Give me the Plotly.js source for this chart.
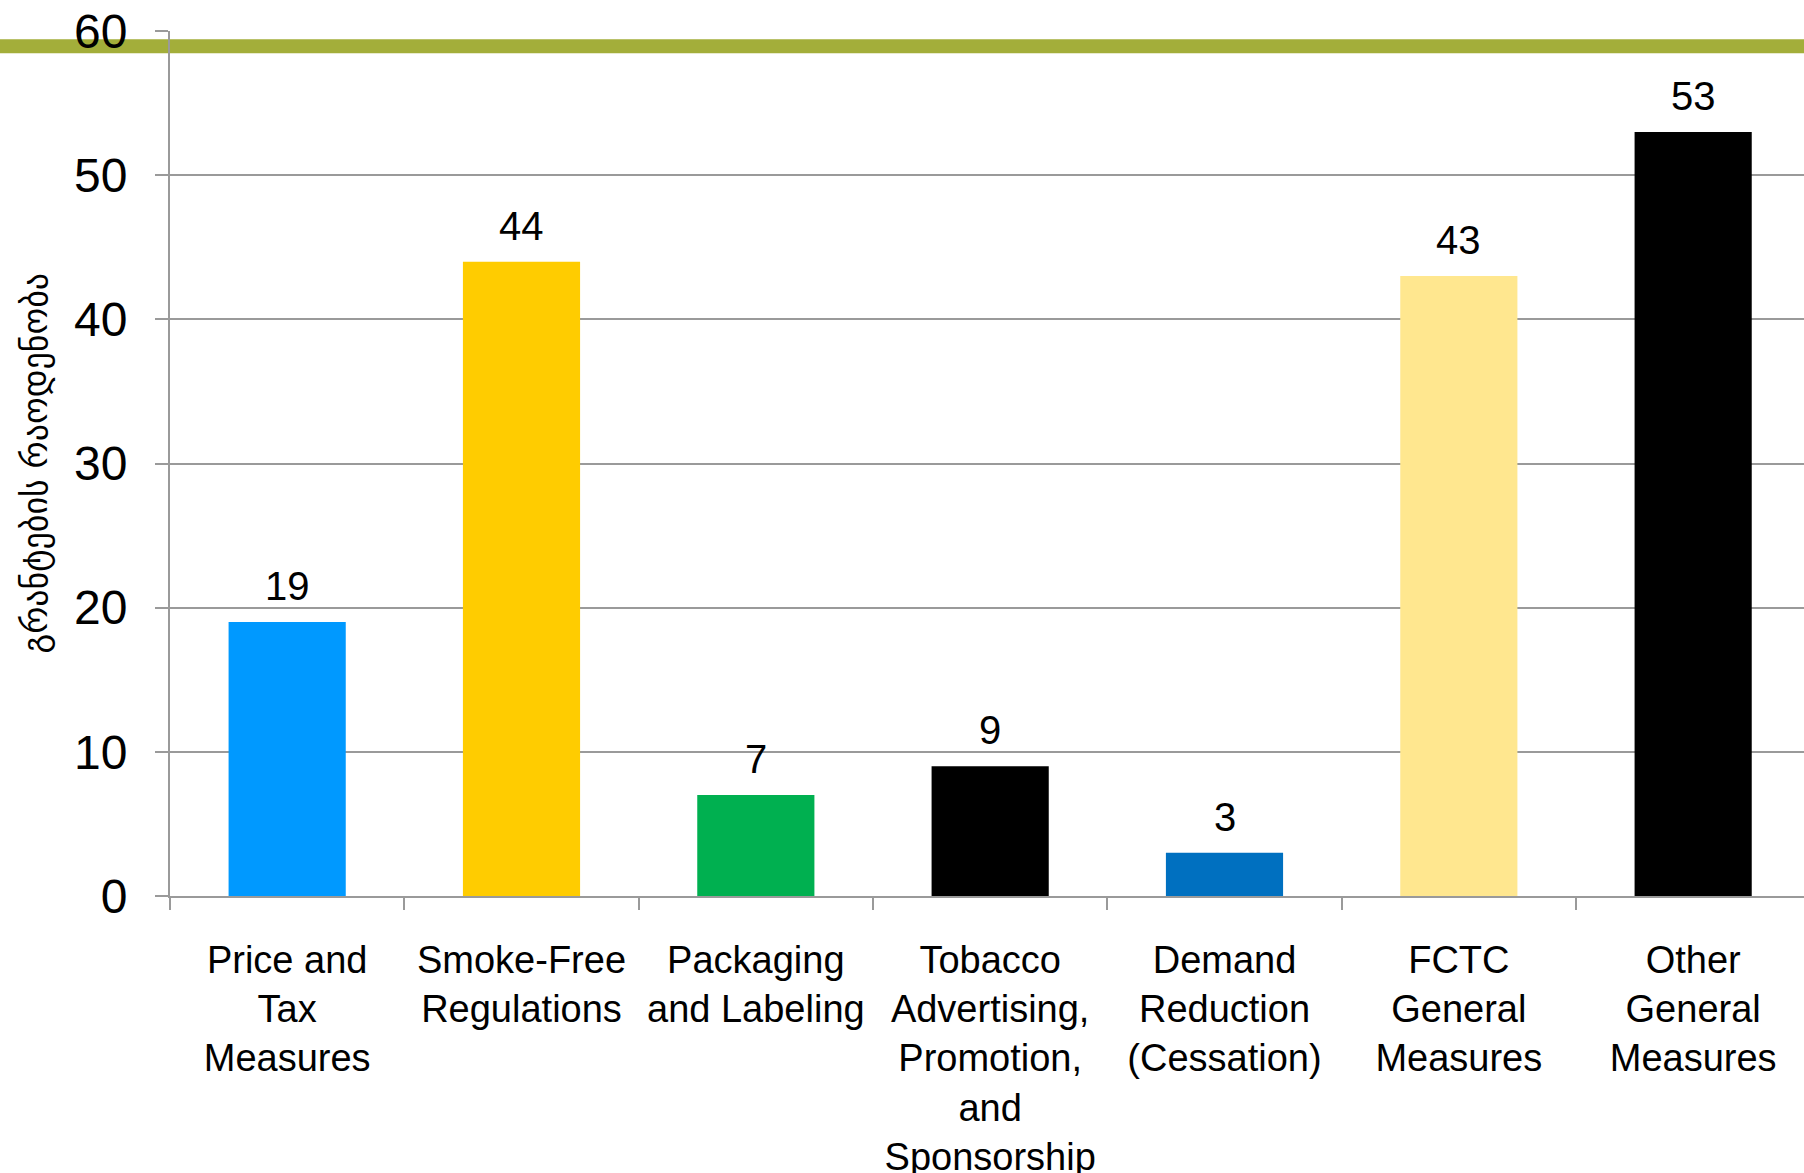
<!DOCTYPE html>
<html>
<head>
<meta charset="utf-8">
<script src="https://cdn.plot.ly/plotly-3.0.1.min.js"></script>
<style>
html,body{margin:0;padding:0;background:#fff;overflow:hidden;}
#chart{width:1804px;height:1173px;}
</style>
</head>
<body>
<div id="chart"></div>
<script>
const categories = [
  "Price and<br>Tax<br>Measures",
  "Smoke-Free<br>Regulations",
  "Packaging<br>and Labeling",
  "Tobacco<br>Advertising,<br>Promotion,<br>and<br>Sponsorship",
  "Demand<br>Reduction<br>(Cessation)",
  "FCTC<br>General<br>Measures",
  "Other<br>General<br>Measures"
];
const grantCounts = [19, 44, 7, 9, 3, 43, 53];
const barColors = ["#0099FF", "#FFCC00", "#00B050", "#000000", "#0070C0", "#FFE78F", "#000000"];
const yTickValues = [0, 10, 20, 30, 40, 50, 60];
const yTitle = "გრანტების რაოდენობა";

const font = "Liberation Sans, Arial, sans-serif";

const trace = {
  type: "bar",
  x: categories,
  y: grantCounts,
  marker: {color: barColors, line: {width: 0}},
  hoverinfo: "skip"
};

const valueLabels = categories.map((c, i) => ({
  x: c, y: grantCounts[i], xref: "x", yref: "y",
  text: String(grantCounts[i]), showarrow: false,
  yanchor: "bottom", yshift: 12,
  font: {family: font, size: 40, color: "#000"}
}));

valueLabels.push({
  xref: "paper", yref: "paper", x: 0, y: 0.5,
  xshift: -136, xanchor: "center", yanchor: "middle",
  textangle: -90, showarrow: false, text: yTitle,
  font: {family: "DejaVu Sans, sans-serif", size: 34, color: "#000"}
});

const layout = {
  width: 1804, height: 1173,
  margin: {l: 170, r: 0, t: 31, b: 277},
  paper_bgcolor: "#ffffff",
  plot_bgcolor: "rgba(0,0,0,0)",
  bargap: 0.5,
  showlegend: false,
  xaxis: {
    type: "category",
    range: [-0.5, 6.473],
    tickson: "boundaries",
    ticks: "outside", ticklen: 12, tickwidth: 2, tickcolor: "#9a9a9a",
    showline: true, linecolor: "#9a9a9a", linewidth: 2,
    showgrid: false,
    ticklabelstandoff: 29,
    tickfont: {family: font, size: 38, color: "#000"},
    fixedrange: true
  },
  yaxis: {
    range: [0, 60],
    tickvals: yTickValues,
    ticks: "outside", ticklen: 13, tickwidth: 2, tickcolor: "#9a9a9a",
    showline: true, linecolor: "#9a9a9a", linewidth: 2,
    showgrid: true, gridcolor: "#9a9a9a", gridwidth: 2,
    zeroline: false,
    ticklabelstandoff: 18,
    tickfont: {family: font, size: 48, color: "#000"},
    fixedrange: true
  },
  shapes: [{
    type: "line", xref: "paper", yref: "paper",
    x0: -0.2, x1: 1.1, y0: 0.9825, y1: 0.9825,
    layer: "below",
    line: {color: "#A3AE3A", width: 14}
  }],
  annotations: valueLabels
};

Plotly.newPlot("chart", [trace], layout, {staticPlot: true, displayModeBar: false});
</script>
</body>
</html>
